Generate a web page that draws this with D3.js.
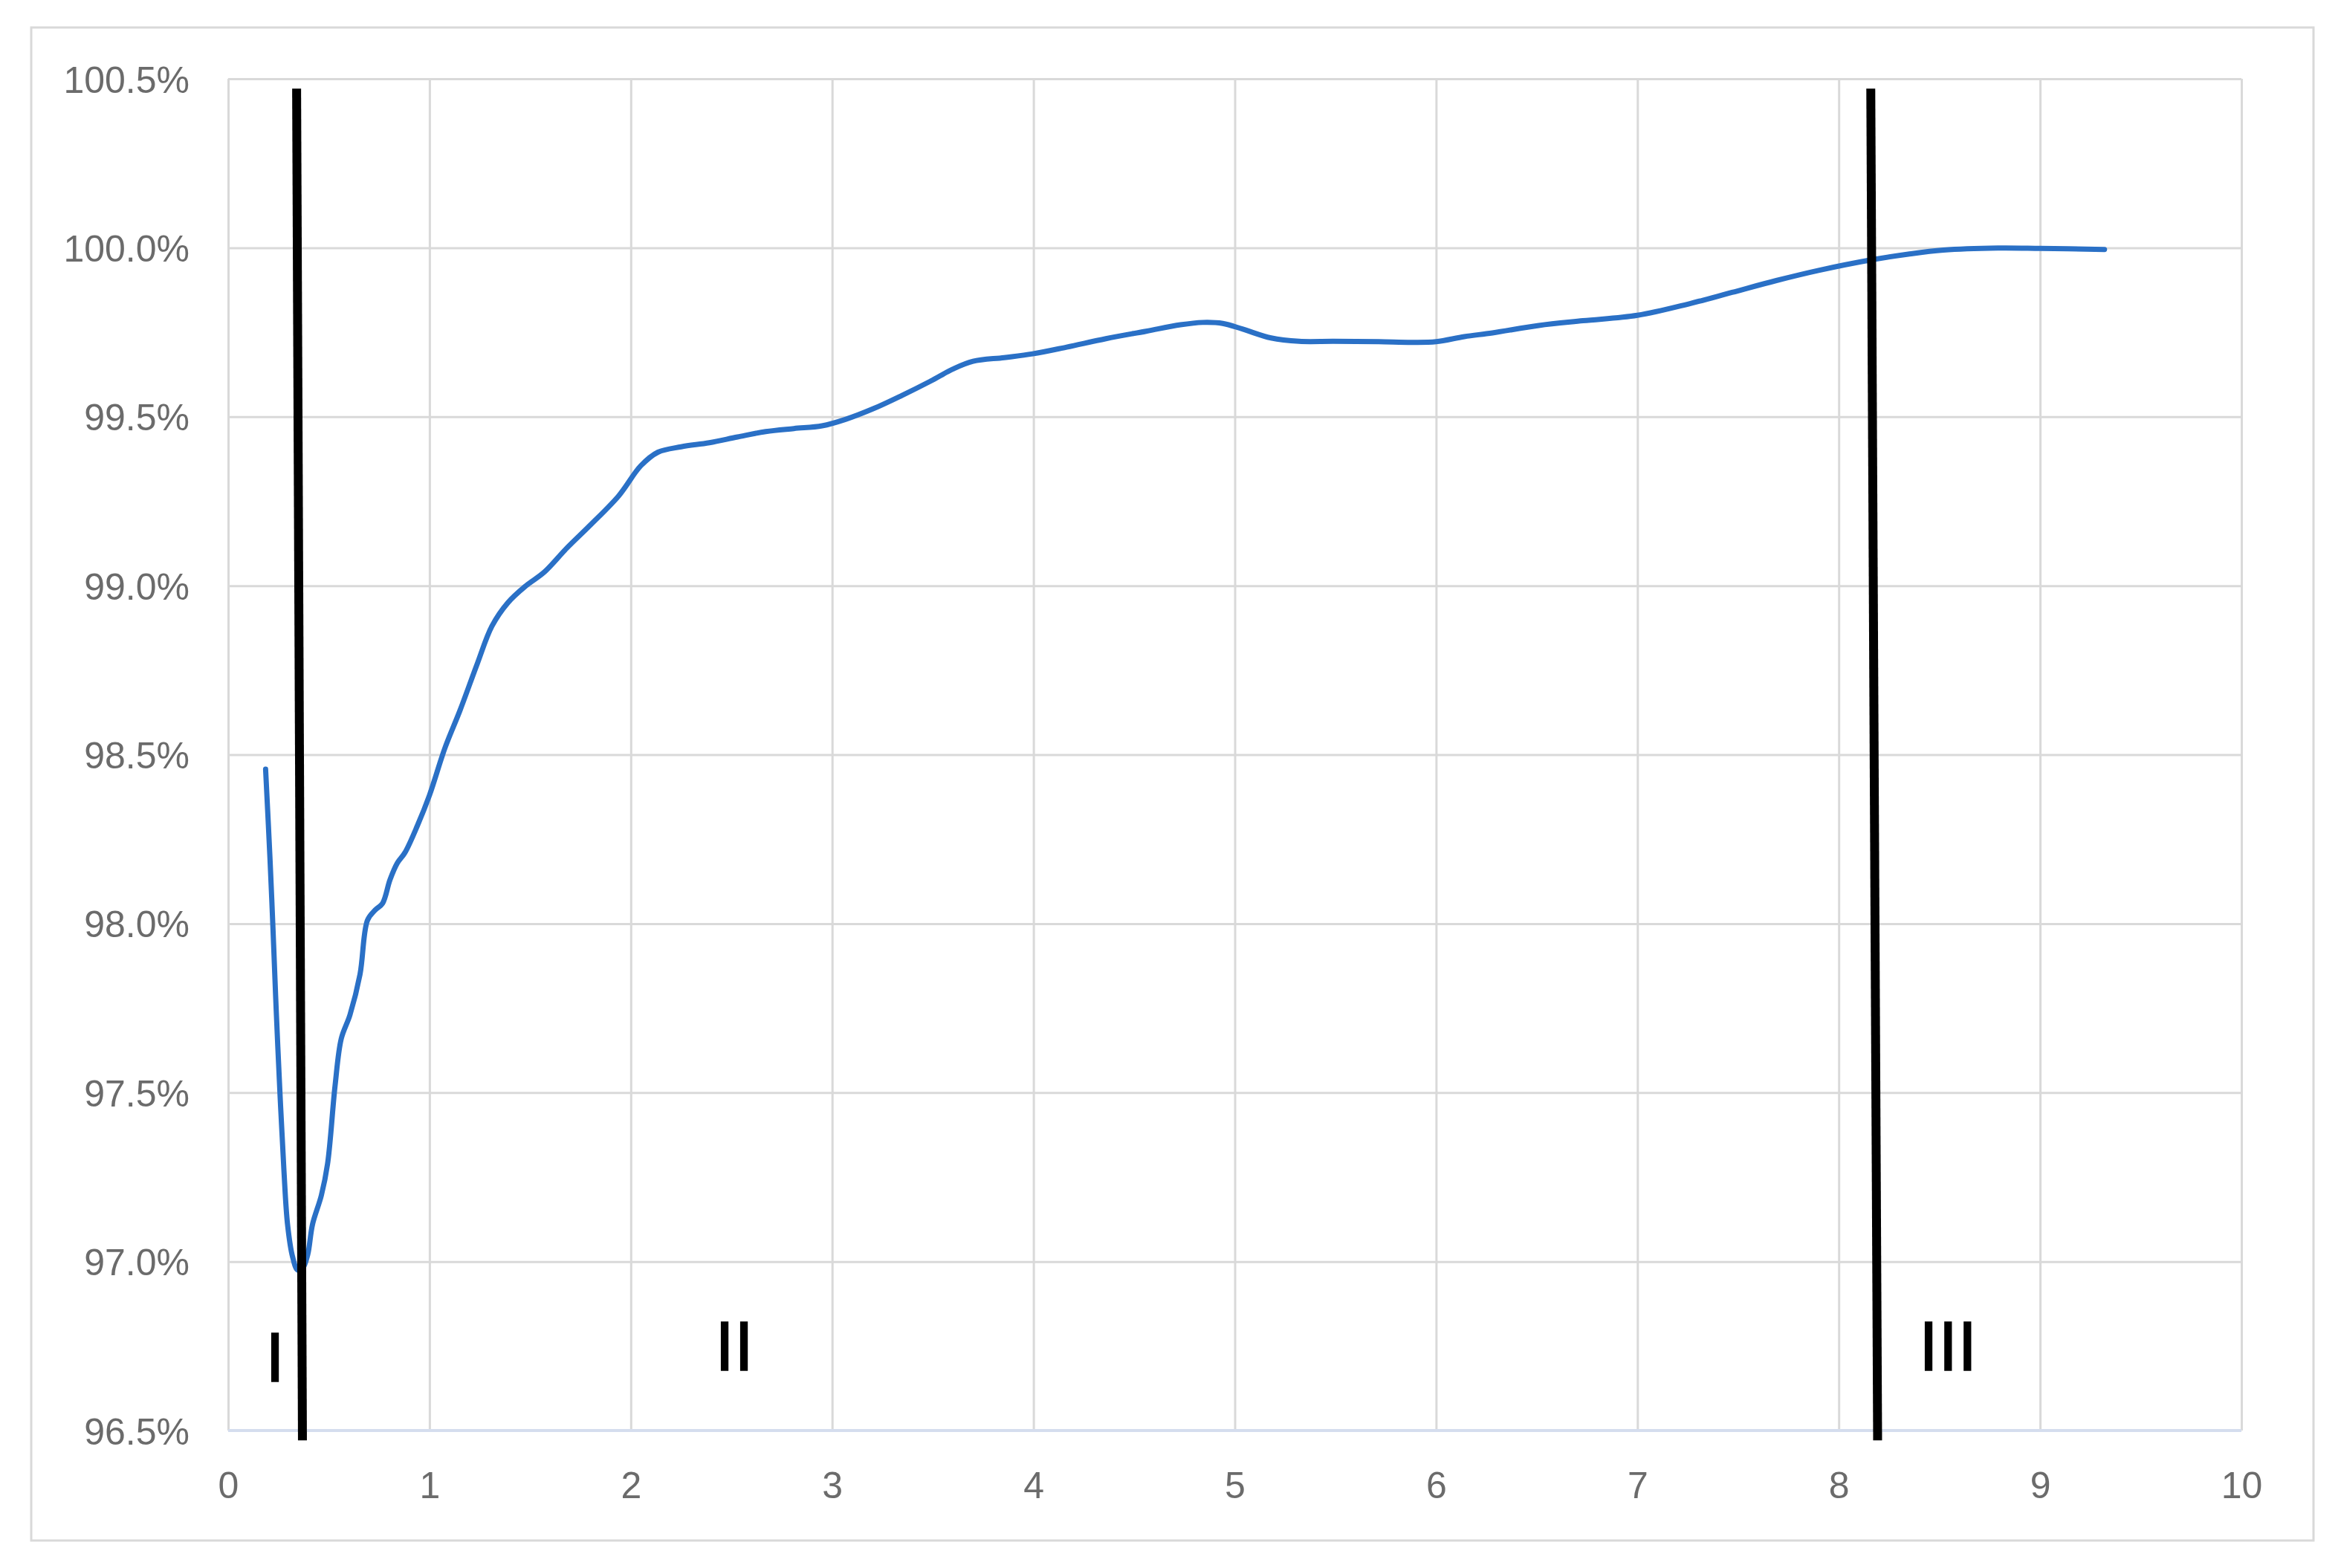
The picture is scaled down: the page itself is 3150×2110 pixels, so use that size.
<!DOCTYPE html>
<html>
<head>
<meta charset="utf-8">
<script src="https://cdn.jsdelivr.net/npm/d3@7"></script>
<style>
html, body { margin: 0; padding: 0; background: #fff; }
svg { display: block; }
</style>
</head>
<body>
<script>
"use strict"

// tick values
const xTicks = [0, 1, 2, 3, 4, 5, 6, 7, 8, 9, 10]
const yTicks = [96.5, 97.0, 97.5, 98.0, 98.5, 99.0, 99.5, 100.0, 100.5]

// curve (x, percent)
const xs = [0.186, 0.208, 0.223, 0.239, 0.258, 0.277, 0.295, 0.32, 0.345, 0.37,
   0.395, 0.419, 0.463, 0.494, 0.531, 0.562, 0.605, 0.655, 0.692, 0.73,
   0.767, 0.804, 0.841, 0.878, 0.94, 1.0, 1.077, 1.151, 1.238, 1.31,
   1.39, 1.48, 1.57, 1.68, 1.80, 1.94, 2.05, 2.135, 2.25, 2.39,
   2.53, 2.67, 2.81, 2.95, 3.066, 3.206, 3.347, 3.488, 3.60, 3.70,
   3.855, 3.996, 4.165, 4.36, 4.56, 4.73, 4.84, 4.94, 5.04, 5.18,
   5.32, 5.49, 5.715, 5.88, 6.0, 6.14, 6.28, 6.51, 6.73, 7.0,
   7.25, 7.47, 7.69, 7.90, 8.16, 8.345, 8.52, 8.79, 9.0, 9.32]
const ys = [98.457, 98.19, 97.98, 97.74, 97.49, 97.27, 97.11, 97.014, 96.975, 96.98,
   97.02, 97.11, 97.196, 97.29, 97.52, 97.66, 97.73, 97.85, 98.01, 98.04,
   98.06, 98.13, 98.18, 98.21, 98.29, 98.38, 98.52, 98.63, 98.77, 98.88,
   98.95, 99.0, 99.04, 99.11, 99.18, 99.266, 99.355, 99.395, 99.411, 99.423,
   99.44, 99.456, 99.465, 99.473, 99.492, 99.524, 99.563, 99.605, 99.641, 99.664,
   99.675, 99.686, 99.706, 99.731, 99.753, 99.772, 99.779, 99.776, 99.759, 99.733,
   99.723, 99.723, 99.722, 99.72, 99.722, 99.737, 99.748, 99.77, 99.784, 99.80,
   99.833, 99.868, 99.903, 99.933, 99.964, 99.981, 99.993, 99.999, 99.998, 99.995]

// the two hand-drawn separators (top x, bottom x) and their y extent
const dividerTop = [0.340, 8.159]
const dividerBottom = [0.369, 8.193]
const dividerY = [100.471, 96.471]

// zone labels
const zoneNames = ['I', 'II', 'III']
const zoneX = [0.233, 2.514, 8.543]
const zoneY = [96.72, 96.753, 96.753]

const W = 3150, H = 2110
const plotL = 307, plotR = 3016, plotT = 106, plotB = 1925
const font = "'Liberation Sans', Arial, sans-serif"

const svg = d3.select('body')
   .append('svg')
      .attr('width', W)
      .attr('height', H)

svg.append('rect')
   .attr('width', W)
   .attr('height', H)
   .attr('fill', '#fff')

// chart frame
svg.append('rect')
   .attr('x', 42)
   .attr('y', 37)
   .attr('width', 3113 - 42)
   .attr('height', 2073 - 37)
   .attr('fill', 'none')
   .attr('stroke', '#d9d9d9')
   .attr('stroke-width', 3)

const x = d3.scaleLinear([0, 10], [plotL, plotR])
const y = d3.scaleLinear([96.5, 100.5], [plotB, plotT])

// grid
svg.append('g')
   .attr('transform', `translate(0, ${plotB})`)
   .call(d3.axisBottom(x).tickValues(xTicks).tickSize(-(plotB - plotT)).tickFormat(''))
   .call(g => g.select('.domain').remove())
   .selectAll('line')
      .attr('stroke', '#d9d9d9')
      .attr('stroke-width', 3)

svg.append('g')
   .attr('transform', `translate(${plotL}, 0)`)
   .call(d3.axisLeft(y).tickValues(yTicks).tickSize(-(plotR - plotL)).tickFormat(''))
   .call(g => g.select('.domain').remove())
   .selectAll('line')
      .attr('stroke', '#d9d9d9')
      .attr('stroke-width', 3)

// horizontal axis line
svg.append('line')
   .attr('x1', plotL)
   .attr('x2', plotR)
   .attr('y1', plotB)
   .attr('y2', plotB)
   .attr('stroke', '#d5ddee')
   .attr('stroke-width', 4)

// tick labels
svg.append('g')
   .attr('transform', `translate(${plotL}, 0)`)
   .call(d3.axisLeft(y).tickValues(yTicks).tickSize(0).tickPadding(52)
      .tickFormat(d => d3.format('.1f')(d) + '%'))
   .call(g => g.select('.domain').remove())
   .selectAll('text')
      .attr('dy', '0.36em')
      .style('font-family', font)
      .style('font-size', '50px')
      .attr('fill', '#6b6b6b')

svg.append('g')
   .attr('transform', `translate(0, ${plotB})`)
   .call(d3.axisBottom(x).tickValues(xTicks).tickSize(0).tickFormat(d3.format('d')))
   .call(g => g.select('.domain').remove())
   .selectAll('text')
      .attr('y', 91)
      .attr('dy', 0)
      .style('font-family', font)
      .style('font-size', '50px')
      .attr('fill', '#6b6b6b')

// the curve
const line = d3.line()
   .x(i => x(xs[i]))
   .y(i => y(ys[i]))
   .curve(d3.curveCatmullRom.alpha(0.5))

svg.append('path')
   .datum(d3.range(xs.length))
   .attr('d', line)
   .attr('fill', 'none')
   .attr('stroke', '#2a70c6')
   .attr('stroke-width', 7)
   .attr('stroke-linejoin', 'round')
   .attr('stroke-linecap', 'round')

// separators
svg.selectAll('.divider')
   .data(dividerTop)
   .enter()
   .append('line')
      .attr('class', 'divider')
      .attr('x1', d => x(d))
      .attr('y1', y(dividerY[0]))
      .attr('x2', (d, i) => x(dividerBottom[i]))
      .attr('y2', y(dividerY[1]))
      .attr('stroke', '#000')
      .attr('stroke-width', 12)

// zone labels
svg.selectAll('.zone')
   .data(zoneNames)
   .enter()
   .append('text')
      .attr('class', 'zone')
      .attr('x', (d, i) => x(zoneX[i]))
      .attr('y', (d, i) => y(zoneY[i]) + 34)
      .attr('text-anchor', 'middle')
      .style('font-family', font)
      .style('font-size', '94px')
      .attr('fill', '#000')
      .attr('stroke', '#000')
      .attr('stroke-width', 1.5)
      .text(d => d)
</script>
</body>
</html>
